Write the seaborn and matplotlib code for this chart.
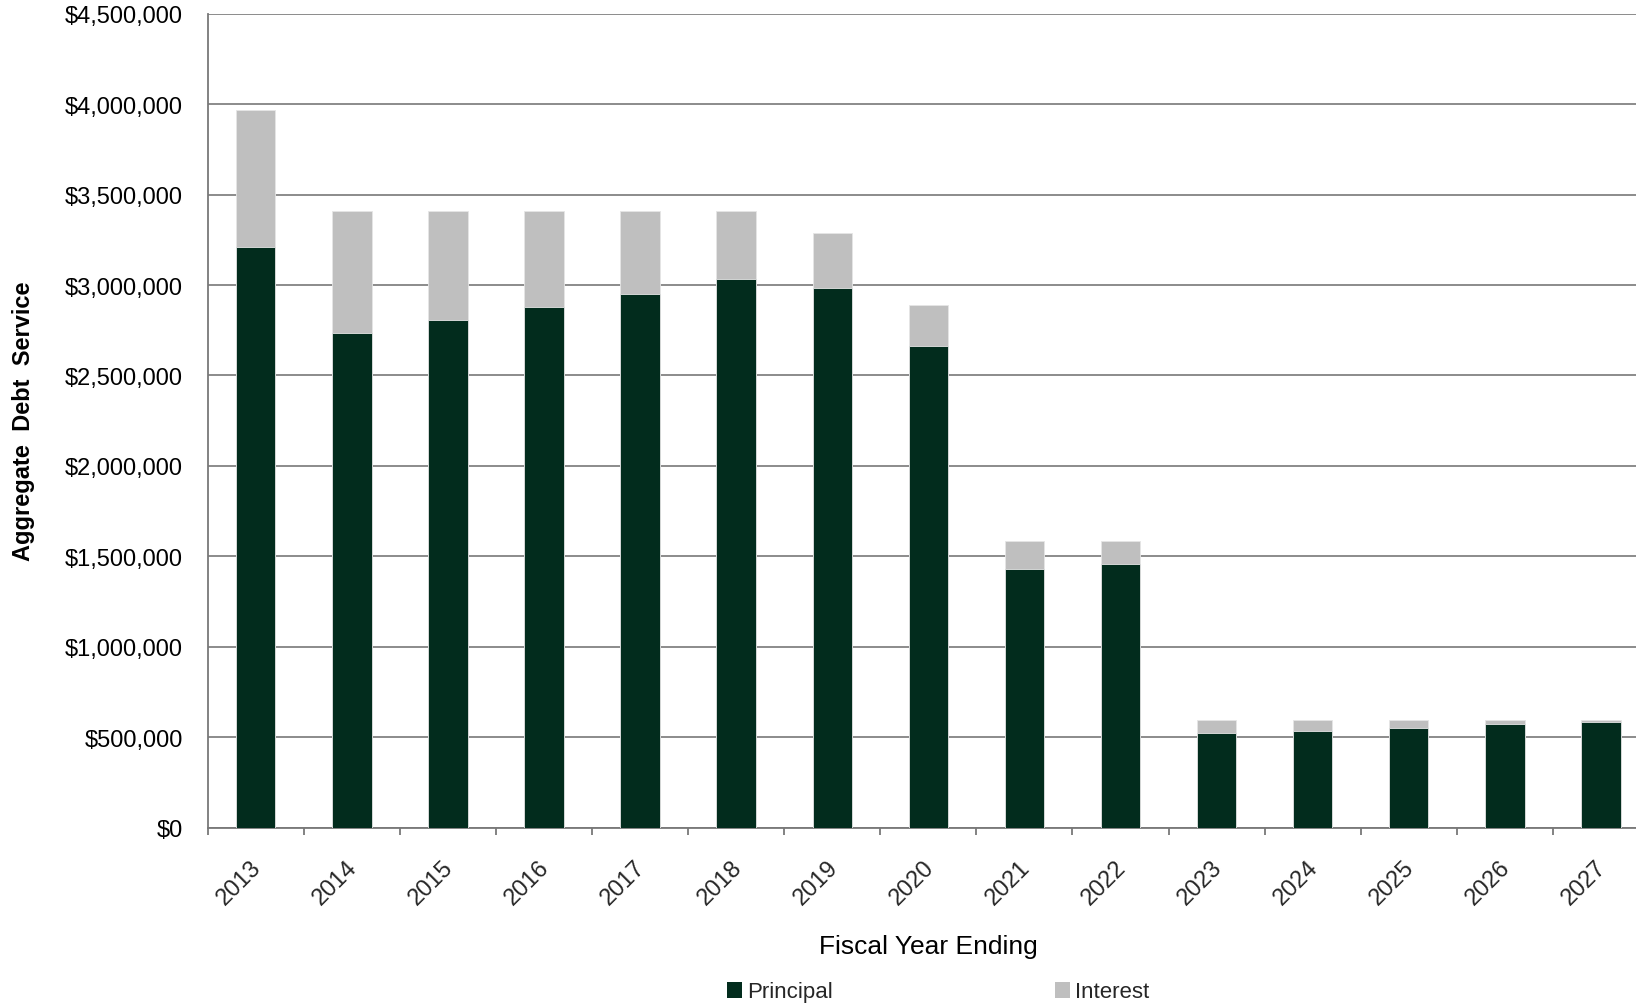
import numpy as np
import pandas as pd
import matplotlib
matplotlib.use("Agg")
import matplotlib.pyplot as plt
import matplotlib.ticker as mticker
import matplotlib.transforms as mtransforms
from matplotlib.patches import Rectangle
import seaborn as sns

# Debt service schedule by fiscal year
years = ["2013", "2014", "2015", "2016", "2017", "2018", "2019", "2020",
         "2021", "2022", "2023", "2024", "2025", "2026", "2027"]
principal = [3210000, 2735000, 2805000, 2880000, 2950000, 3035000, 2985000, 2665000,
             1430000, 1460000, 522000, 533000, 553000, 575000, 585000]
interest = [756000, 672000, 602000, 527000, 457000, 372000, 300000, 225000,
            157000, 127000, 72000, 61000, 41000, 19000, 9000]

principal_color = "#022c1d"
interest_color = "#bfbfbf"
grid_color = "#787878"

df = pd.DataFrame({"year": years, "principal": principal, "interest": interest})
df["total"] = df["principal"] + df["interest"]

sns.set_theme(style="white")
plt.rcParams["font.family"] = ["Liberation Sans", "DejaVu Sans"]

W, H = 1636, 1004
fig = plt.figure(figsize=(W / 100, H / 100), dpi=100)
ax = fig.add_axes([207.7 / W, 1 - 828.7 / H, (1649 - 207.7) / W, (828.7 - 14.7) / H])

# stacked bars: total (interest on top) drawn first, principal over it
sns.barplot(data=df, x="year", y="total", color=interest_color, width=0.41,
            saturation=1, edgecolor="#e6e6e6", linewidth=0.6, ax=ax, zorder=3)
sns.barplot(data=df, x="year", y="principal", color=principal_color, width=0.41,
            saturation=1, edgecolor="#e6e6e6", linewidth=0.6, ax=ax, zorder=4)

ax.set_xlim(-0.5, len(years) - 0.5)
ax.set_ylim(0, 4500000)
ax.yaxis.set_major_locator(mticker.MultipleLocator(500000))
ax.yaxis.set_major_formatter(mticker.FuncFormatter(lambda v, p: f"${v:,.0f}"))

# gridlines
ax.grid(axis="y", color=grid_color, linewidth=1.2, zorder=0)
ax.grid(axis="x", visible=False)
ax.set_axisbelow(True)

for side in ["left", "bottom"]:
    ax.spines[side].set_color(grid_color)
    ax.spines[side].set_linewidth(1.3)
ax.spines["right"].set_visible(False)
ax.spines["top"].set_visible(False)

# ticks between categories, labels centered on bars
n = len(years)
ax.set_xticks(np.arange(-0.5, n, 1.0))
ax.set_xticklabels([])
ax.set_xticks(np.arange(n), minor=True)
ax.set_xticklabels(years, minor=True, rotation=45, ha="right", fontsize=17)
ax.tick_params(axis="x", which="major", length=5, width=1.3, color=grid_color,
               direction="out", bottom=True)
ax.tick_params(axis="x", which="minor", length=0, pad=20, labelsize=17)
ax.tick_params(axis="y", length=0, pad=18, labelsize=17, labelcolor="black")

shift = mtransforms.ScaledTranslation(10 / 100, 0, fig.dpi_scale_trans)
for lbl in ax.get_xticklabels(minor=True):
    lbl.set_transform(lbl.get_transform() + shift)

ax.set_xlabel("")
ax.set_ylabel("")
fig.text(928 / W, 1 - 946.7 / H, "Fiscal Year Ending", fontsize=19,
         ha="center", va="center", color="black")
fig.text(24 / W, 1 - 421 / H, "Aggregate  Debt  Service", fontsize=17,
         fontweight="bold", rotation=90, ha="center", va="center", color="black")

handles = [Rectangle((0, 0), 1, 1, facecolor=principal_color, edgecolor="none"),
           Rectangle((0, 0), 1, 1, facecolor=interest_color, edgecolor="none")]
fig.legend(handles, ["Principal", "Interest"], loc="center",
           bbox_to_anchor=(938 / W, 1 - 993 / H), ncol=2, frameon=False,
           fontsize=16, handlelength=0.7, handleheight=0.7, handletextpad=0.2,
           columnspacing=10.0, borderaxespad=0, borderpad=0)

fig.savefig("out.png", dpi=100)
